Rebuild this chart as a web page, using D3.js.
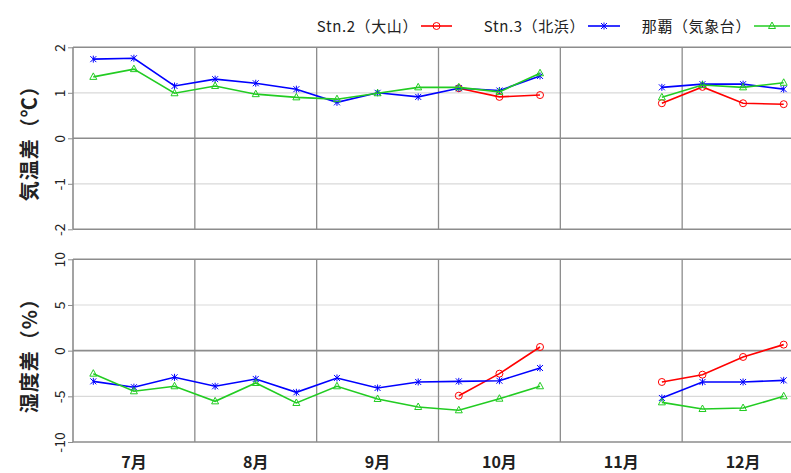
<!DOCTYPE html>
<html>
<head>
<meta charset="utf-8">
<script src="https://cdn.jsdelivr.net/npm/d3@7"></script>
<style>
body { margin: 0; background: #fff; }
svg text { font-family: "Noto Sans CJK JP", "DejaVu Sans", sans-serif; }
</style>
</head>
<body>
<div id="chart"></div>
<script>
// Dekad positions: 7月上旬 .. 12月下旬 (18 points)
var months = ["7月", "8月", "9月", "10月", "11月", "12月"];
var dekads = d3.range(18);

// Temperature difference (℃)
var tempStn2 = [null, null, null, null, null, null, null, null, null, 1.10, 0.91, 0.95, null, null, 0.77, 1.13, 0.77, 0.75];
var tempStn3 = [1.74, 1.76, 1.15, 1.30, 1.21, 1.08, 0.79, 1.00, 0.91, 1.10, 1.05, 1.37, null, null, 1.12, 1.19, 1.19, 1.08];
var tempNaha = [1.35, 1.52, 0.99, 1.15, 0.97, 0.90, 0.86, 0.99, 1.12, 1.12, 1.02, 1.43, null, null, 0.90, 1.17, 1.12, 1.22];

// Humidity difference (%)
var humStn2 = [null, null, null, null, null, null, null, null, null, -4.93, -2.52, 0.40, null, null, -3.43, -2.63, -0.69, 0.66];
var humStn3 = [-3.36, -4.00, -2.92, -3.90, -3.10, -4.56, -2.99, -4.09, -3.43, -3.36, -3.29, -1.90, null, null, -5.18, -3.43, -3.43, -3.25];
var humNaha = [-2.52, -4.45, -3.90, -5.55, -3.54, -5.73, -3.90, -5.29, -6.17, -6.53, -5.26, -3.90, null, null, -5.66, -6.39, -6.28, -5.00];

var tempTicks = [-2, -1, 0, 1, 2];
var humTicks = [-10, -5, 0, 5, 10];

var stations = [
    {name: "Stn.2（大山）", color: "#ff0000", marker: "circle"},
    {name: "Stn.3（北浜）", color: "#0000ff", marker: "cross"},
    {name: "那覇（気象台）", color: "#22cc22", marker: "triangle"}
];

var w = 791, h = 473;
var left = 73, right = 804; // plot runs past the right edge of the picture

var svg = d3.select("#chart").append("svg")
    .attr("width", w)
    .attr("height", h);

//x scale over the 18 dekads, points sit in the middle of each third of a month
var xscale = d3.scaleLinear()
    .domain([-0.5, 17.5])
    .range([left, right]);

var panels = [
    {top: 47.3, bottom: 229.3, domain: [-2, 2], ticks: tempTicks, title: "気温差（℃）", series: [tempStn2, tempStn3, tempNaha]},
    {top: 259.3, bottom: 442, domain: [-10, 10], ticks: humTicks, title: "湿度差（%）", series: [humStn2, humStn3, humNaha]}
];

function drawMarker(g, type, x, y, color) {
    if (type == "circle") {
        g.append("circle").attr("cx", x).attr("cy", y).attr("r", 3.5)
            .attr("fill", "none").attr("stroke", color).attr("stroke-width", 1);
    } else if (type == "cross") {
        g.append("path")
            .attr("d", "M" + (x - 3) + "," + (y - 3) + "L" + (x + 3) + "," + (y + 3) +
                       "M" + (x - 3) + "," + (y + 3) + "L" + (x + 3) + "," + (y - 3) +
                       "M" + x + "," + (y - 3.5) + "L" + x + "," + (y + 3.5))
            .attr("stroke", color).attr("stroke-width", 1);
    } else {
        g.append("path")
            .attr("d", "M" + x + "," + (y - 4) + "L" + (x + 3.5) + "," + (y + 2.5) + "L" + (x - 3.5) + "," + (y + 2.5) + "Z")
            .attr("fill", "none").attr("stroke", color).attr("stroke-width", 1);
    }
}

panels.forEach(function(p) {
    var yscale = d3.scaleLinear().domain(p.domain).range([p.bottom, p.top]);

    //horizontal grid lines
    svg.append("g").selectAll("line")
        .data(p.ticks)
        .enter()
        .append("line")
        .attr("x1", left).attr("x2", w)
        .attr("y1", d => yscale(d)).attr("y2", d => yscale(d))
        .attr("stroke", d => (d == 0 || d == p.domain[0] || d == p.domain[1]) ? "#8c8c8c" : "#d9d9d9")
        .attr("stroke-width", d => (d == 0 || d == p.domain[0] || d == p.domain[1]) ? 1.6 : 1.2);

    //month boundaries
    svg.append("g").selectAll("line")
        .data(d3.range(1, 6))
        .enter()
        .append("line")
        .attr("x1", d => xscale(d * 3 - 0.5)).attr("x2", d => xscale(d * 3 - 0.5))
        .attr("y1", p.top).attr("y2", p.bottom)
        .attr("stroke", "#8c8c8c").attr("stroke-width", 1.3);

    //left border
    svg.append("line")
        .attr("x1", left).attr("x2", left)
        .attr("y1", p.top).attr("y2", p.bottom)
        .attr("stroke", "#8c8c8c").attr("stroke-width", 1.6);

    //y axis (rotated tick labels), plain hyphen for negatives like the original
    var yaxis = d3.axisLeft(yscale).tickValues(p.ticks).tickSize(5).tickFormat(d => String(d));
    var ag = svg.append("g")
        .attr("transform", "translate(" + left + ",0)")
        .call(yaxis);
    ag.select(".domain").remove();
    ag.selectAll(".tick line").attr("stroke", "#8c8c8c");
    ag.selectAll(".tick text")
        .attr("x", null).attr("dy", null)
        .attr("transform", "translate(-14,0) rotate(-90)")
        .attr("text-anchor", "middle")
        .attr("dominant-baseline", "central")
        .style("font-size", "14px")
        .attr("fill", "#222");

    //axis title
    var cy = (p.top + p.bottom) / 2;
    svg.append("text")
        .attr("transform", "translate(28," + cy + ") rotate(-90)")
        .attr("text-anchor", "middle")
        .attr("dominant-baseline", "central")
        .style("font-size", "20px")
        .style("font-weight", "bold")
        .style("letter-spacing", "1px")
        .attr("fill", "#222")
        .text(p.title);

    //series lines and markers
    p.series.forEach(function(values, si) {
        var st = stations[si];
        var line = d3.line()
            .defined(d => d != null)
            .x((d, i) => xscale(dekads[i]))
            .y(d => yscale(d));
        svg.append("path")
            .datum(values)
            .attr("d", line)
            .attr("fill", "none")
            .attr("stroke", st.color)
            .attr("stroke-width", 1.6);
        var mg = svg.append("g");
        values.forEach(function(v, i) {
            if (v != null) drawMarker(mg, st.marker, xscale(dekads[i]), yscale(v), st.color);
        });
    });
});

//month labels at the bottom
svg.append("g").selectAll("text")
    .data(months)
    .enter()
    .append("text")
    .attr("x", (d, i) => xscale(i * 3 + 1))
    .attr("y", 461)
    .attr("text-anchor", "middle")
    .attr("dominant-baseline", "central")
    .style("font-size", "16px")
    .style("font-weight", "bold")
    .attr("fill", "#222")
    .text(d => d);

//legend: text ends right where its sample line starts
var legendLine = [[421, 452], [588, 620], [754, 790]];
stations.forEach(function(st, i) {
    svg.append("text")
        .attr("x", legendLine[i][0] - 3).attr("y", 25)
        .attr("text-anchor", "end")
        .attr("dominant-baseline", "central")
        .style("font-size", "15px")
        .style("letter-spacing", "0.6px")
        .attr("fill", "#222")
        .text(st.name);
    svg.append("line")
        .attr("x1", legendLine[i][0]).attr("x2", legendLine[i][1])
        .attr("y1", 26).attr("y2", 26)
        .attr("stroke", st.color).attr("stroke-width", 1.6);
    drawMarker(svg, st.marker, (legendLine[i][0] + legendLine[i][1]) / 2, 26, st.color);
});
</script>
</body>
</html>
